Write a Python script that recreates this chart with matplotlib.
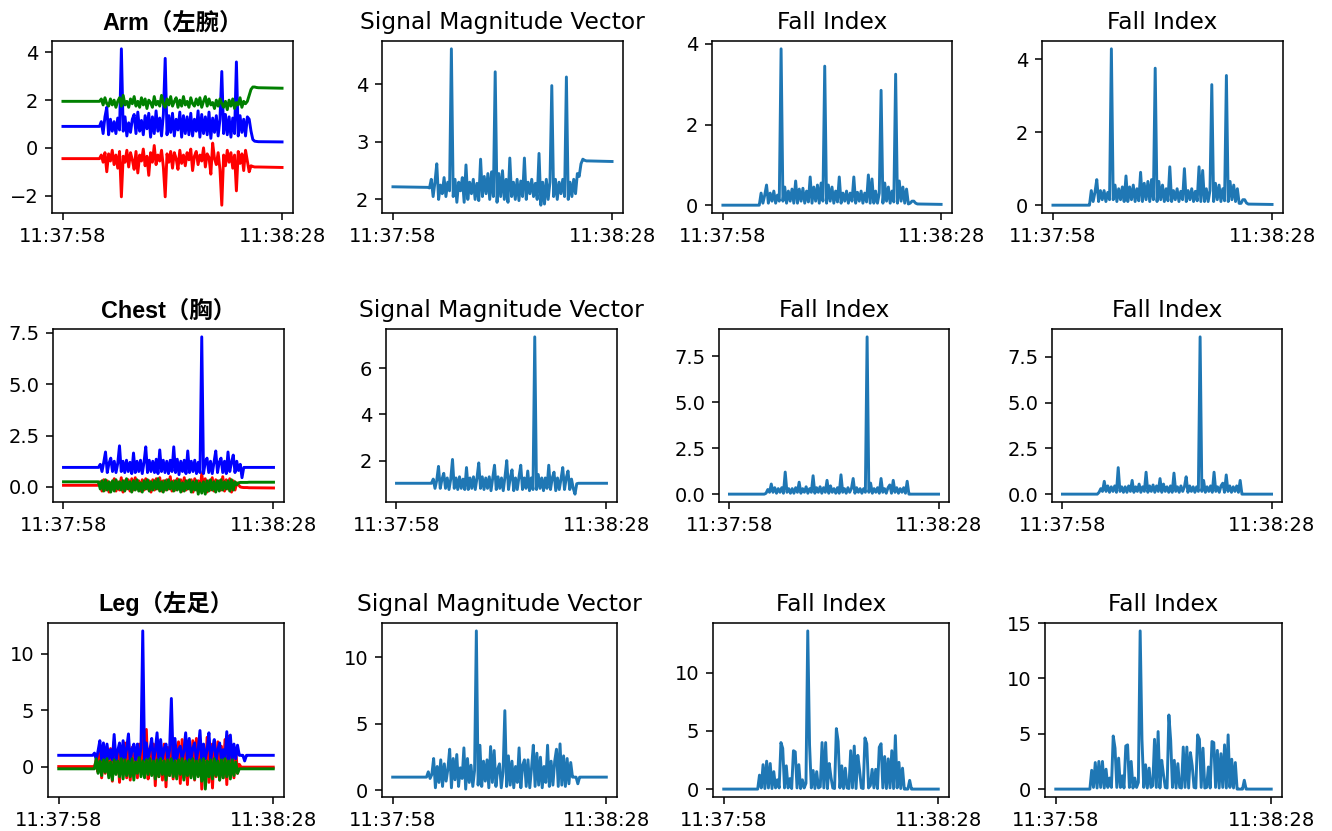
import numpy as np
import pandas as pd
import matplotlib
matplotlib.use("Agg")
import matplotlib.pyplot as plt
import matplotlib.dates as mdates

# ---------------- data ----------------
START = "2024-01-01 11:37:58"
# sample instants, seconds after START: rest (0, 4.75), active 0.25 s samples 5.0..26.75, rest (30)
SECONDS = [0.0, 4.75] + [5.0 + 0.25 * k for k in range(88)] + [30.0]
TICK_LABEL_FMT = "%H:%M:%S"

ROW_TITLES = ["Arm（左腕）", "Chest（胸）", "Leg（左足）"]
COL_TITLES = ["Signal Magnitude Vector", "Fall Index", "Fall Index"]

ARM_X = [-0.45, -0.45,
    -0.45, -0.30, -0.60, -0.20,
    -1.00, -0.25, -0.55, -0.10,
    -0.70, -0.30, -0.85, -0.15,
    -2.05, -0.35, -0.60, -0.10,
    -0.80, -0.20, -0.50, -0.90,
    -0.15, -1.05, -0.30, -0.55,
    -0.05, -0.75, -0.35, -1.15,
    -0.20, -0.60, 0.10, -0.70,
    -0.30, -0.55, -0.10, -0.80,
    -2.05, -0.25, -0.60, -0.15,
    -0.85, -0.20, -0.45, -0.90,
    -0.10, -0.65, -0.30, -0.75,
    -0.20, -0.50, -0.05, -0.95,
    -0.35, -0.15, -0.70, -0.30,
    -0.55, 0.00, -0.80, -0.25,
    -0.40, -1.10, 0.20, -0.45,
    -0.70, -0.20, -0.90, -2.40,
    -0.30, -0.75, -0.10, -0.60,
    -0.20, -0.85, -0.30, -1.80,
    -0.15, -0.65, -0.25, -0.95,
    -0.10, -0.55, -1.00, -0.75,
    -0.78, -0.80, -0.80, -0.80,
    -0.82]

ARM_Y = [0.90, 0.90,
    0.90, 1.10, 0.60, 1.30,
    1.70, 0.55, 1.20, 0.70,
    1.10, 0.60, 1.25, 0.75,
    4.15, 0.70, 1.30, 0.50,
    1.05, 0.65, 1.20, 1.40,
    0.60, 1.50, 0.70, 1.15,
    0.55, 1.35, 0.80, 1.45,
    0.45, 1.30, 0.60, 1.55,
    0.70, 1.25, 0.50, 1.40,
    3.75, 0.55, 1.35, 0.65,
    1.45, 0.50, 1.20, 0.75,
    1.50, 0.45, 1.35, 0.60,
    1.30, 0.55, 1.45, 0.50,
    1.20, 0.70, 1.55, 0.45,
    1.40, 0.60, 1.30, 0.55,
    1.50, 0.40, 1.25, 0.65,
    1.35, 0.50, 1.20, 3.20,
    0.60, 1.40, 0.55, 1.30,
    0.45, 1.25, 0.60, 3.60,
    0.50, 1.35, 0.65, 1.20,
    0.50, 1.30, 1.20, 0.70,
    0.35, 0.28, 0.27, 0.26,
    0.25]

ARM_Z = [1.95, 1.95,
    1.95, 2.05, 1.80, 2.10,
    1.85, 1.75, 2.05, 1.80,
    2.00, 1.70, 1.95, 2.10,
    1.75, 2.20, 1.80, 1.95,
    1.70, 2.05, 1.85, 2.15,
    1.75, 1.95, 1.70, 2.10,
    1.80, 2.05, 1.65, 2.00,
    1.90, 1.70, 2.15, 1.80,
    1.95, 1.75, 2.20, 1.85,
    1.70, 2.05, 1.80, 2.15,
    1.75, 1.95, 2.10, 1.70,
    2.00, 1.75, 2.15, 1.80,
    1.95, 1.70, 2.10, 1.85,
    1.75, 2.05, 1.80, 2.10,
    1.70, 1.95, 2.15, 1.75,
    2.05, 1.80, 1.90, 1.65,
    2.00, 1.75, 2.05, 1.85,
    1.70, 1.95, 1.60, 2.00,
    1.75, 2.05, 1.65, 1.90,
    1.80, 2.10, 1.70, 1.95,
    1.85, 1.95, 2.20, 2.45,
    2.55, 2.55, 2.53, 2.52,
    2.50]

ARM_SMV = [2.22, 2.21,
    2.20, 2.35, 2.05, 2.30,
    2.62, 2.00, 2.25, 2.10,
    2.38, 2.05, 2.30, 2.15,
    4.62, 2.05, 2.35, 1.95,
    2.30, 2.15, 2.38, 1.95,
    2.60, 2.00, 2.30, 2.10,
    2.35, 2.00, 2.28, 1.98,
    2.70, 2.05, 2.40, 2.10,
    2.45, 2.00, 2.48, 2.05,
    4.22, 1.95, 2.45, 2.05,
    2.50, 2.00, 2.35, 1.95,
    2.72, 2.05, 2.30, 2.00,
    2.35, 1.98, 2.32, 2.05,
    2.72, 2.00, 2.30, 2.10,
    2.35, 2.05, 2.28, 2.00,
    2.80, 1.90, 2.30, 1.92,
    2.35, 2.00, 2.30, 3.98,
    2.05, 2.35, 2.00, 2.30,
    2.10, 2.35, 2.05, 4.13,
    2.00, 2.30, 2.05, 2.35,
    2.10, 2.45, 2.40, 2.62,
    2.70, 2.68, 2.67, 2.67,
    2.66]

ARM_FI1 = [0.00, 0.00,
    0.00, 0.30, 0.05, 0.25,
    0.50, 0.05, 0.30, 0.10,
    0.35, 0.05, 0.25, 0.10,
    3.88, 0.10, 0.45, 0.05,
    0.35, 0.10, 0.40, 0.05,
    0.60, 0.05, 0.40, 0.10,
    0.42, 0.05, 0.35, 0.08,
    0.70, 0.05, 0.45, 0.10,
    0.50, 0.05, 0.55, 0.10,
    3.45, 0.05, 0.50, 0.10,
    0.45, 0.05, 0.35, 0.08,
    0.70, 0.05, 0.30, 0.10,
    0.35, 0.05, 0.30, 0.10,
    0.70, 0.05, 0.32, 0.10,
    0.35, 0.05, 0.30, 0.08,
    0.75, 0.05, 0.65, 0.05,
    0.35, 0.05, 0.30, 2.85,
    0.05, 0.55, 0.10, 0.45,
    0.05, 0.35, 0.08, 3.25,
    0.05, 0.60, 0.10, 0.45,
    0.05, 0.40, 0.03, 0.05,
    0.10, 0.10, 0.05, 0.03,
    0.02]

ARM_FI2 = [0.00, 0.00,
    0.00, 0.40, 0.10, 0.35,
    0.70, 0.10, 0.40, 0.15,
    0.40, 0.10, 0.35, 0.15,
    4.28, 0.15, 0.55, 0.10,
    0.45, 0.15, 0.50, 0.10,
    0.80, 0.10, 0.50, 0.15,
    0.55, 0.10, 0.45, 0.12,
    0.90, 0.10, 0.60, 0.15,
    0.65, 0.10, 0.70, 0.15,
    3.75, 0.10, 0.65, 0.15,
    0.55, 0.10, 0.45, 0.12,
    1.05, 0.10, 0.40, 0.15,
    0.45, 0.10, 0.38, 0.15,
    1.00, 0.10, 0.40, 0.15,
    0.45, 0.10, 0.38, 0.12,
    1.05, 0.10, 0.95, 0.10,
    0.45, 0.10, 0.40, 3.30,
    0.10, 0.60, 0.15, 0.55,
    0.10, 0.45, 0.12, 3.55,
    0.10, 0.65, 0.15, 0.55,
    0.10, 0.45, 0.05, 0.05,
    0.15, 0.15, 0.06, 0.03,
    0.02]

CHEST_X = [0.08, 0.08,
    0.08, 0.25, -0.20, 0.35,
    -0.15, 0.30, -0.25, 0.20,
    -0.10, 0.40, -0.20, 0.25,
    -0.15, 0.45, -0.25, 0.30,
    -0.10, 0.35, -0.20, 0.40,
    -0.15, 0.45, -0.10, 0.30,
    -0.20, 0.35, -0.15, 0.40,
    -0.10, 0.30, -0.25, 0.35,
    -0.15, 0.40, -0.10, 0.45,
    -0.20, 0.30, -0.15, 0.35,
    -0.10, 0.50, -0.20, 0.30,
    -0.15, 0.40, -0.10, 0.35,
    -0.20, 0.45, -0.15, 0.30,
    -0.10, 0.35, -0.25, 0.40,
    -0.15, 0.30, -0.20, 0.65,
    -0.10, 0.40, -0.25, 0.30,
    -0.15, 0.45, -0.20, 0.35,
    -0.10, 0.30, -0.15, 0.50,
    -0.20, 0.35, -0.10, 0.40,
    -0.25, 0.30, -0.15, 0.20,
    0.10, 0.00, -0.02, -0.03,
    -0.03, -0.03, -0.04, -0.04,
    -0.05]

CHEST_Y = [0.95, 0.95,
    0.95, 1.10, 0.75, 1.20,
    1.70, 0.70, 1.15, 1.40,
    0.75, 1.25, 0.70, 1.15,
    2.00, 0.75, 1.25, 0.70,
    1.30, 0.75, 1.20, 0.65,
    1.65, 0.70, 1.25, 0.75,
    1.30, 0.65, 1.20, 1.95,
    0.70, 1.30, 0.75, 1.25,
    0.70, 1.35, 0.65, 1.80,
    0.75, 1.30, 0.70, 1.25,
    0.65, 1.30, 0.75, 1.95,
    0.70, 1.35, 0.60, 1.25,
    0.75, 1.30, 0.65, 1.75,
    0.70, 1.25, 0.75, 1.30,
    0.65, 1.20, 0.70, 7.30,
    0.65, 1.20, 1.40, 0.70,
    1.25, 0.65, 1.20, 1.75,
    0.70, 1.20, 1.40, 0.70,
    1.25, 0.65, 1.70, 0.75,
    1.20, 1.55, 0.70, 1.25,
    0.80, 1.10, 0.45, 0.95,
    0.95, 0.95, 0.95, 0.95,
    0.95]

CHEST_Z = [0.25, 0.25,
    0.25, -0.10, 0.30, -0.20,
    0.35, -0.15, 0.25, -0.25,
    0.30, -0.20, 0.35, -0.10,
    0.25, -0.15, 0.30, -0.20,
    0.40, -0.10, 0.25, -0.25,
    0.30, -0.15, 0.35, -0.20,
    0.20, -0.25, 0.30, -0.10,
    0.35, -0.20, 0.25, -0.15,
    0.30, -0.10, 0.40, -0.20,
    0.25, -0.25, 0.30, -0.15,
    0.35, -0.10, 0.25, -0.20,
    0.30, -0.15, 0.35, -0.25,
    0.20, -0.20, 0.30, -0.10,
    0.35, -0.25, 0.25, -0.15,
    0.30, -0.35, 0.20, -0.30,
    0.25, -0.35, 0.30, -0.20,
    0.35, -0.15, 0.25, -0.25,
    0.30, -0.20, 0.35, -0.15,
    0.25, -0.10, 0.30, -0.20,
    0.35, -0.15, 0.25, 0.10,
    0.20, 0.22, 0.22, 0.22,
    0.22, 0.22, 0.23, 0.23,
    0.23]

CHEST_SMV = [1.02, 1.02,
    1.02, 1.20, 0.80, 1.15,
    1.75, 0.80, 1.20, 1.45,
    0.80, 1.25, 0.75, 1.20,
    2.05, 0.80, 1.25, 0.75,
    1.30, 0.80, 1.20, 0.75,
    1.70, 0.75, 1.25, 0.80,
    1.30, 0.75, 1.25, 1.90,
    0.80, 1.30, 0.75, 1.25,
    0.80, 1.30, 0.70, 1.25,
    1.80, 0.75, 1.30, 0.80,
    1.25, 0.70, 1.30, 2.00,
    0.75, 1.25, 1.60, 0.70,
    1.25, 0.75, 1.30, 1.80,
    0.75, 1.25, 0.80, 1.55,
    0.70, 1.25, 0.75, 7.35,
    0.75, 1.40, 0.80, 1.25,
    0.70, 1.25, 0.80, 1.80,
    0.75, 1.25, 1.50, 0.70,
    1.25, 0.75, 1.20, 1.70,
    0.75, 1.25, 1.55, 0.75,
    1.20, 0.80, 0.55, 1.00,
    1.02, 1.02, 1.02, 1.02,
    1.02]

CHEST_FI1 = [0.00, 0.00,
    0.00, 0.05, 0.25, 0.10,
    0.55, 0.10, 0.35, 0.05,
    0.30, 0.10, 0.35, 0.05,
    1.20, 0.10, 0.30, 0.05,
    0.30, 0.05, 0.35, 0.10,
    0.65, 0.05, 0.30, 0.10,
    0.40, 0.05, 0.30, 0.10,
    1.00, 0.05, 0.35, 0.10,
    0.40, 0.05, 0.35, 0.10,
    0.75, 0.05, 0.45, 0.10,
    0.30, 0.05, 0.35, 0.05,
    1.05, 0.10, 0.30, 0.05,
    0.35, 0.10, 0.30, 0.85,
    0.05, 0.35, 0.10, 0.30,
    0.05, 0.30, 0.10, 8.55,
    0.10, 0.60, 0.05, 0.30,
    0.10, 0.35, 0.05, 0.85,
    0.10, 0.30, 0.05, 0.35,
    0.50, 0.05, 0.75, 0.10,
    0.35, 0.05, 0.30, 0.10,
    0.35, 0.05, 0.70, 0.00,
    0.00, 0.00, 0.00, 0.00,
    0.00]

CHEST_FI2 = [0.00, 0.00,
    0.00, 0.10, 0.30, 0.15,
    0.70, 0.15, 0.45, 0.10,
    0.40, 0.15, 0.45, 0.10,
    1.45, 0.15, 0.40, 0.10,
    0.40, 0.10, 0.45, 0.15,
    0.75, 0.10, 0.40, 0.15,
    0.55, 0.10, 0.40, 0.15,
    1.20, 0.10, 0.45, 0.15,
    0.50, 0.10, 0.45, 0.15,
    0.85, 0.10, 0.55, 0.15,
    0.40, 0.10, 0.45, 0.10,
    1.15, 0.15, 0.40, 0.10,
    0.45, 0.15, 0.40, 0.95,
    0.10, 0.45, 0.15, 0.40,
    0.10, 0.40, 0.15, 8.60,
    0.15, 0.75, 0.10, 0.40,
    0.15, 0.45, 0.10, 1.20,
    0.15, 0.40, 0.10, 0.45,
    0.60, 0.10, 1.05, 0.15,
    0.45, 0.10, 0.40, 0.15,
    0.45, 0.10, 0.75, 0.00,
    0.00, 0.00, 0.00, 0.00,
    0.00]

LEG_X = [0.00, 0.00,
    0.00, 0.60, -0.50, 1.80,
    -1.00, 1.50, -0.60, 1.20,
    -0.80, 1.60, -1.30, 2.20,
    -0.50, 1.40, -1.40, 1.80,
    -0.60, 2.10, -1.00, 1.50,
    -1.20, 1.70, -0.70, 1.20,
    -1.00, 2.00, -0.50, 3.30,
    -0.80, 3.30, -1.10, 1.60,
    -0.70, 2.00, -1.70, 1.50,
    -0.90, 1.80, -1.20, 2.00,
    -1.80, 1.70, -0.80, 2.10,
    -1.10, 1.60, -0.90, 2.20,
    -1.50, 2.40, -1.00, 1.90,
    -1.60, 1.70, -0.90, 2.30,
    -1.20, 2.50, -0.80, 2.00,
    -2.00, 1.80, -1.10, 2.60,
    -1.40, 2.00, -1.90, 1.70,
    -0.90, 2.20, -1.20, 1.80,
    -1.00, 2.40, -1.60, 2.70,
    -0.80, 1.90, -1.00, 1.50,
    -0.60, 0.20, -0.05, -0.05,
    -0.05, -0.05, -0.05, -0.05,
    -0.05]

LEG_Y = [1.00, 1.00,
    1.20, 0.60, 1.40, 2.30,
    0.60, 2.10, 0.50, 2.00,
    0.70, 1.50, 0.60, 2.85,
    0.60, 1.40, 2.10, 0.50,
    2.30, 0.70, 1.60, 2.90,
    0.50, 1.50, 2.00, 0.60,
    2.00, 0.70, 1.60, 12.05,
    0.60, 2.10, 0.70, 1.50,
    2.50, 0.60, 1.40, 3.00,
    0.50, 2.40, 0.70, 1.60,
    2.00, 0.60, 1.50, 6.05,
    0.50, 2.50, 0.70, 1.50,
    1.80, 0.60, 1.40, 3.00,
    0.50, 2.50, 0.70, 1.60,
    2.10, 0.60, 1.50, 3.20,
    0.50, 2.00, 0.70, 1.50,
    3.00, 0.60, 1.60, 2.40,
    0.50, 1.50, 2.10, 0.60,
    1.50, 0.70, 3.10, 0.60,
    2.80, 0.50, 2.00, 0.70,
    1.90, 1.00, 1.00, 1.00,
    0.50, 1.00, 1.00, 1.00,
    1.00]

LEG_Z = [-0.20, -0.20,
    -0.20, 0.70, -0.60, 0.50,
    -0.80, 0.60, -0.50, 0.70,
    -1.00, 0.40, -1.20, 0.60,
    -0.70, 0.50, -0.90, 0.70,
    -1.10, 0.60, -0.80, 0.50,
    -0.90, 0.70, -1.20, 0.40,
    -0.60, 0.80, -0.90, 0.50,
    -1.00, 0.60, -0.70, 0.70,
    -0.80, 0.50, -1.10, 0.60,
    -0.90, 0.70, -0.70, 0.50,
    -1.20, 0.60, -0.80, 0.70,
    -0.90, 0.50, -1.10, 0.60,
    -0.70, 0.70, -1.20, 0.50,
    -0.80, 0.60, -1.00, 0.70,
    -1.10, 0.50, -0.90, 0.60,
    -1.30, 0.70, -2.00, 0.50,
    -0.90, 0.60, -1.10, 0.70,
    -0.80, 0.50, -1.20, 0.60,
    -1.00, 0.70, -0.90, 0.50,
    -1.10, 0.60, -0.80, 0.40,
    -0.60, -0.20, -0.20, -0.20,
    -0.20, -0.20, -0.20, -0.20,
    -0.20]

LEG_SMV = [1.00, 1.00,
    1.40, 0.90, 1.20, 2.40,
    0.20, 1.80, 0.60, 2.30,
    0.30, 2.00, 0.70, 1.60,
    3.10, 0.20, 2.40, 0.80,
    2.70, 0.30, 1.70, 0.90,
    3.20, 0.10, 2.40, 0.60,
    1.90, 0.30, 1.50, 12.00,
    0.40, 3.40, 0.30, 2.20,
    0.70, 2.30, 0.20, 3.30,
    0.60, 3.00, 0.30, 1.60,
    2.00, 0.20, 1.40, 6.00,
    0.30, 2.60, 0.40, 2.20,
    0.20, 1.80, 0.60, 3.20,
    0.20, 1.90, 2.30, 0.30,
    2.30, 0.20, 1.70, 3.40,
    0.30, 2.80, 0.40, 2.50,
    0.20, 1.80, 0.60, 3.40,
    0.30, 2.20, 0.40, 2.20,
    3.10, 0.30, 3.50, 0.40,
    2.60, 0.30, 2.40, 0.50,
    2.10, 1.00, 1.00, 1.00,
    0.50, 1.00, 1.00, 1.00,
    1.00]

LEG_FI1 = [0.00, 0.00,
    1.20, 0.10, 2.10, 0.05,
    2.40, 0.10, 2.20, 0.05,
    1.50, 0.10, 0.80, 0.10,
    4.00, 3.50, 0.10, 2.00,
    0.10, 0.90, 0.05, 3.30,
    3.20, 0.10, 2.10, 0.05,
    0.80, 0.10, 0.50, 13.60,
    3.80, 0.10, 1.60, 0.05,
    1.50, 0.10, 0.20, 4.00,
    0.10, 4.00, 0.05, 2.20,
    1.00, 0.10, 0.05, 5.20,
    4.10, 0.10, 2.00, 0.05,
    1.80, 0.10, 0.05, 3.30,
    0.10, 3.70, 0.05, 2.90,
    1.60, 0.10, 0.05, 4.40,
    3.90, 0.10, 0.30, 1.70,
    0.10, 1.70, 0.05, 3.60,
    3.90, 0.10, 2.80, 0.05,
    2.60, 0.10, 3.30, 0.05,
    4.60, 0.10, 2.30, 0.05,
    1.80, 0.00, 0.00, 0.00,
    0.75, 0.00, 0.00, 0.00,
    0.00]

LEG_FI2 = [0.00, 0.00,
    1.70, 0.15, 2.40, 0.10,
    2.50, 0.15, 2.50, 0.10,
    1.80, 0.15, 1.00, 0.15,
    4.80, 3.70, 0.15, 2.80,
    0.15, 1.20, 0.10, 3.90,
    4.00, 0.15, 2.50, 0.10,
    1.00, 0.15, 0.60, 14.30,
    4.50, 0.15, 2.20, 0.10,
    1.90, 0.15, 0.30, 4.50,
    0.15, 5.20, 0.10, 2.60,
    1.30, 0.15, 0.10, 6.70,
    4.40, 0.15, 2.60, 0.10,
    2.30, 0.15, 0.10, 3.80,
    0.15, 3.80, 0.10, 3.30,
    2.10, 0.15, 0.10, 4.90,
    4.50, 0.15, 3.70, 0.10,
    0.15, 2.00, 0.10, 4.30,
    4.20, 0.15, 3.50, 0.10,
    3.20, 0.15, 4.00, 0.10,
    4.90, 0.15, 2.70, 0.10,
    2.40, 0.00, 0.00, 0.00,
    0.00, 0.80, 0.00, 0.00,
    0.00]

# ---------------- layout (pixel boxes: left, right, top, bottom) ----------------
W, H = 1332, 831
DPI = 140
ROW_Y = [(41, 213), (329, 502), (623, 797)]
ROW_X = [
    [(52, 293), (382, 623), (712, 952), (1042, 1283)],
    [(53, 284), (386, 617), (719, 949), (1052, 1282)],
    [(48, 284), (382, 617), (713, 949), (1045, 1282)],
]

plt.rcParams["font.size"] = 10
plt.rcParams["font.family"] = ["DejaVu Sans"]

fig = plt.figure(figsize=(W / DPI, H / DPI), dpi=DPI)
times = pd.Timestamp(START) + pd.to_timedelta(SECONDS, unit="s")

rows = [
    ((ARM_X, ARM_Y, ARM_Z), ARM_SMV, ARM_FI1, ARM_FI2),
    ((CHEST_X, CHEST_Y, CHEST_Z), CHEST_SMV, CHEST_FI1, CHEST_FI2),
    ((LEG_X, LEG_Y, LEG_Z), LEG_SMV, LEG_FI1, LEG_FI2),
]
AXIS_COLORS = ["red", "blue", "green"]
LW = 1.5

for r, (xyz, smv, fi1, fi2) in enumerate(rows):
    top, bot = ROW_Y[r]
    for c in range(4):
        left, right = ROW_X[r][c]
        ax = fig.add_axes([left / W, 1 - bot / H, (right - left) / W, (bot - top) / H])
        if c == 0:
            for series, col in zip(xyz, AXIS_COLORS):
                assert len(series) == len(SECONDS)
                ax.plot(times, series, color=col, lw=LW)
            ax.set_title(ROW_TITLES[r], fontweight="bold", fontsize=12,
                         family=["Liberation Sans", "Noto Sans CJK SC"])
        else:
            series = [smv, fi1, fi2][c - 1]
            assert len(series) == len(SECONDS)
            ax.plot(times, series, color="#1f77b4", lw=LW)
            ax.set_title(COL_TITLES[c - 1], fontsize=12)
        ax.set_xticks([times[0], times[-1]])
        ax.xaxis.set_major_formatter(mdates.DateFormatter(TICK_LABEL_FMT))

fig.savefig("out.png", dpi=DPI)
